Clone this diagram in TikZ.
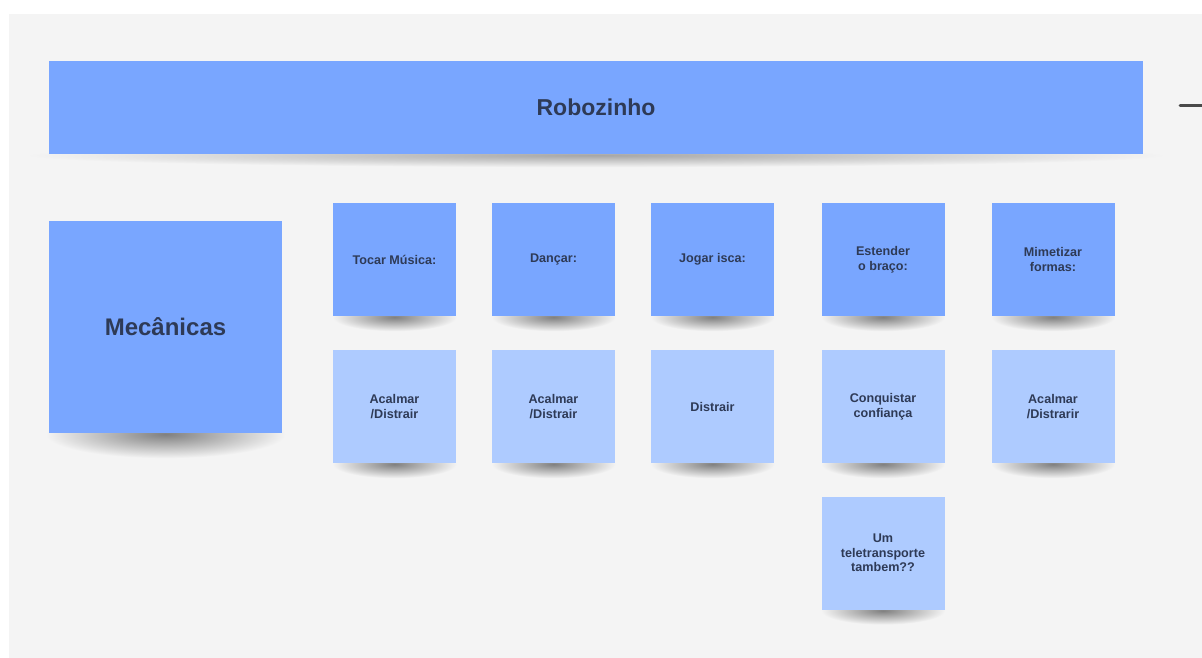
\documentclass[tikz,border=0pt]{standalone}
\usepackage{fontspec}
\setmainfont{Liberation Sans}
\begin{document}
\definecolor{canvas}{HTML}{F4F4F4}
\definecolor{notedark}{HTML}{79A6FF}
\definecolor{notelight}{HTML}{AECBFF}
\definecolor{notetext}{HTML}{2E3A56}
\definecolor{dashgray}{HTML}{4A4A4A}
\tikzset{
  note/.style={fill=notedark, draw=none, inner sep=0pt, align=center,
    text=notetext, font=\bfseries\fontsize{12.6}{14.5}\selectfont},
  lightnote/.style={note, fill=notelight},
  smallnote/.style={minimum width=123pt, minimum height=113pt},
}
% soft curled shadow under a note
\newcommand{\noteshadow}[3]{%
  \shade[inner color=black!50, outer color=canvas]
    ([yshift=-1pt]#1.south) ellipse [x radius=#2, y radius=#3];}
\begin{tikzpicture}[x=1pt,y=-1pt]
  \useasboundingbox (0,0) rectangle (1202,658);
  \fill[white] (0,0) rectangle (1202,658);
  \fill[canvas] (9,14) rectangle (1202,658);

  % title banner
  \coordinate (bannerpos) at (596,107.5);
  \node[note, minimum width=1094pt, minimum height=93pt] (banner) at (bannerpos) {};
  \shade[inner color=black!35, outer color=canvas]
    ([yshift=-1pt]banner.south) ellipse [x radius=570pt, y radius=12pt];
  \node[note, minimum width=1094pt, minimum height=93pt,
        font=\bfseries\fontsize{23}{26}\selectfont] (bannerbox) at (bannerpos) {Robozinho};
  \coordinate (dashstart) at (1180,106);
  \coordinate (dashend) at (1202,106);
  \draw[dashgray, line width=3pt, line cap=round] (dashstart) -- (dashend);

  % section label
  \coordinate (mecpos) at (165.5,327);
  \node[note, minimum width=233pt, minimum height=212pt] (mecshadow) at (mecpos) {};
  \noteshadow{mecshadow}{120pt}{24pt}
  \node[note, minimum width=233pt, minimum height=212pt,
        font=\bfseries\fontsize{24}{28}\selectfont] (mec) at (mecpos) {Mecânicas};

  % mechanics (top row) and their purposes (rows below)
  \foreach \name/\x/\y/\sty/\txt in {
      tocar/394.5/259.5/note/{Tocar Música:},
      dancar/553.5/259.5/note/{Dançar:},
      jogar/712.5/259.5/note/{Jogar isca:},
      estender/883/259.5/note/{Estender\\o braço:},
      mimetizar/1053/259.5/note/{Mimetizar\\formas:},
      tocarB/394.5/406.5/lightnote/{Acalmar\\/Distrair},
      dancarB/553.5/406.5/lightnote/{Acalmar\\/Distrair},
      jogarB/712.5/406.5/lightnote/{Distrair},
      estenderB/883/406.5/lightnote/{Conquistar\\confiança},
      mimetizarB/1053/406.5/lightnote/{Acalmar\\/Distrarir},
      estenderC/883/553/lightnote/{Um\\teletransporte\\tambem??}} {
    \node[\sty, smallnote] (\name-s) at (\x,\y) {};
    \noteshadow{\name-s}{62pt}{14pt}
    \node[\sty, smallnote] (\name) at (\x,\y) {\txt};
  }
\end{tikzpicture}
\end{document}
